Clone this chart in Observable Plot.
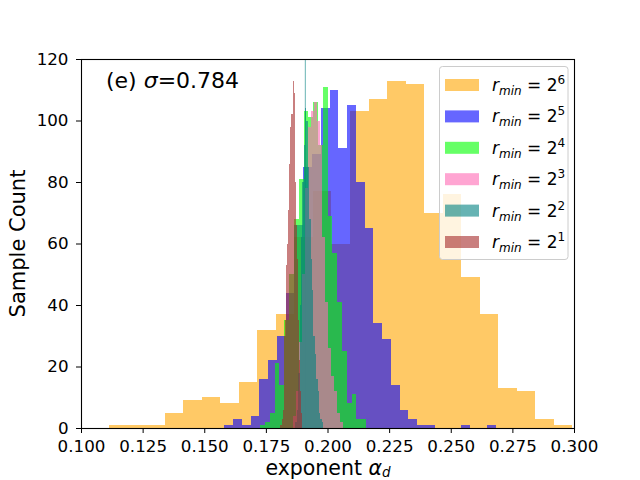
<!DOCTYPE html>
<html><head><meta charset="utf-8">
<script src="https://cdn.jsdelivr.net/npm/d3@7"></script>
<script src="https://cdn.jsdelivr.net/npm/@observablehq/plot@0.6"></script>
<style>body{margin:0;background:#fff} svg{display:block}</style>
</head><body><div id="chart"></div>
<script>
// Series (plot order = legend order)
const seriesExp = ["6", "5", "4", "3", "2", "1"];
const seriesColors = ["orange", "blue", "lime", "hotpink", "teal", "brown"];
// Histogram bin geometry (data units of the exponent)
const binStart = [0.11138, 0.15813, 0.17272, 0.18618, 0.18699, 0.18069];
const binWidth = [0.00752, 0.003557, 0.001951, 0.001179, 0.000561, 0.000427];
// Sample counts per bin
const counts6 = [1, 1, 1, 5, 9, 10, 8, 15, 32, 37, 62, 77, 60, 103, 107, 113, 112, 70, 76, 49, 37, 13, 12, 3, 1];
const counts5 = [1, 3, 1, 4, 16, 22, 30, 44, 66, 85, 89, 104, 110, 91, 105, 80, 65, 34, 29, 14, 6, 3, 1, 1, 0, 0, 0, 1, 0, 0, 1];
const counts4 = [1, 2, 5, 21, 14, 35, 50, 68, 81, 103, 101, 106, 92, 111, 69, 57, 41, 25, 8, 11, 3, 3];
const counts3 = [4, 12, 28, 50, 78, 98, 103, 106, 100, 92, 62, 41, 26, 17, 12, 5, 2];
const counts2 = [2, 6, 18, 40, 62, 80, 92, 104, 100, 85, 68, 55, 45, 30, 24, 16, 12, 5, 3, 2];
const counts1 = [1, 1, 3, 6, 30, 35, 53, 60, 71, 86, 98, 102, 113, 109, 80, 66, 55, 35, 22, 12, 5];
const allCounts = [counts6, counts5, counts4, counts3, counts2, counts1];
const refLine = [0.1908];
const xTicks = [0.100, 0.125, 0.150, 0.175, 0.200, 0.225, 0.250, 0.275, 0.300];
const yTicks = [0, 20, 40, 60, 80, 100, 120];

const bins = [];
allCounts.forEach((cs, s) => cs.forEach((c, i) => bins.push({
  s, x1: binStart[s] + i * binWidth[s], x2: binStart[s] + (i + 1) * binWidth[s], y: c
})));

const FONT = "DejaVu Sans";
const plot = Plot.plot({
  width: 640, height: 480,
  marginLeft: 81, marginRight: 66, marginTop: 59, marginBottom: 52,
  style: {fontFamily: FONT, fontSize: "16.7px", color: "black", background: "white"},
  x: {domain: [0.1, 0.3], ticks: xTicks, tickFormat: d3.format(".3f"), label: null, tickSize: 5, tickPadding: 7},
  y: {domain: [0, 120], ticks: yTicks, label: null, tickSize: 5, tickPadding: 8},
  marks: [
    Plot.ruleX(refLine, {stroke: "teal", strokeOpacity: 0.6, strokeWidth: 1}),
    ...seriesColors.map((col, s) => Plot.rectY(bins.filter(d => d.s === s && d.y > 0), {
      x1: "x1", x2: "x2", y: "y", fill: col, fillOpacity: 0.6, shapeRendering: "crispEdges"
    })),
    Plot.frame({stroke: "black", strokeWidth: 1.1})
  ]
});
document.getElementById("chart").appendChild(plot);

const svg = d3.select(plot);
// annotation
const ann = svg.append("text").attr("x", 106).attr("y", 88).attr("text-anchor", "start")
  .attr("font-family", FONT).attr("font-size", 22).attr("fill", "black");
ann.append("tspan").text("(e) ");
ann.append("tspan").attr("font-style", "italic").text("σ");
ann.append("tspan").text("=0.784");

// x label
const xl = svg.append("text").attr("x", 328).attr("y", 474.5).attr("text-anchor", "middle")
  .attr("font-family", FONT).attr("font-size", 20.5).attr("fill", "black");
xl.append("tspan").text("exponent ");
xl.append("tspan").attr("font-style", "italic").text("α");
xl.append("tspan").attr("font-style", "italic").attr("font-size", 13.5).attr("dy", 2).text("d");

// y label
svg.append("text").attr("transform", "translate(25,243.5) rotate(-90)").attr("text-anchor", "middle")
  .attr("font-family", FONT).attr("font-size", 21).attr("fill", "black").text("Sample Count");

// legend
const lg = svg.append("g").attr("text-anchor", "start");
lg.append("rect").attr("x", 439.5).attr("y", 66.5).attr("width", 128.5).attr("height", 193)
  .attr("rx", 3).attr("fill", "white").attr("fill-opacity", 0.8).attr("stroke", "#cccccc");
seriesExp.forEach((e, i) => {
  const cy = 85 + i * 31.4;
  lg.append("rect").attr("x", 445).attr("y", cy - 6).attr("width", 34).attr("height", 12)
    .attr("fill", seriesColors[i]).attr("fill-opacity", 0.6);
  const t = lg.append("text").attr("x", 492).attr("y", cy + 6).attr("text-anchor", "start")
    .attr("font-family", FONT).attr("font-size", 17).attr("fill", "black");
  t.append("tspan").attr("font-style", "italic").text("r");
  t.append("tspan").attr("font-style", "italic").attr("font-size", 12).attr("dy", 4).text("min");
  t.append("tspan").attr("dy", -4).text(" = 2");
  t.append("tspan").attr("font-size", 12).attr("dy", -7).text(e);
});
</script></body></html>
